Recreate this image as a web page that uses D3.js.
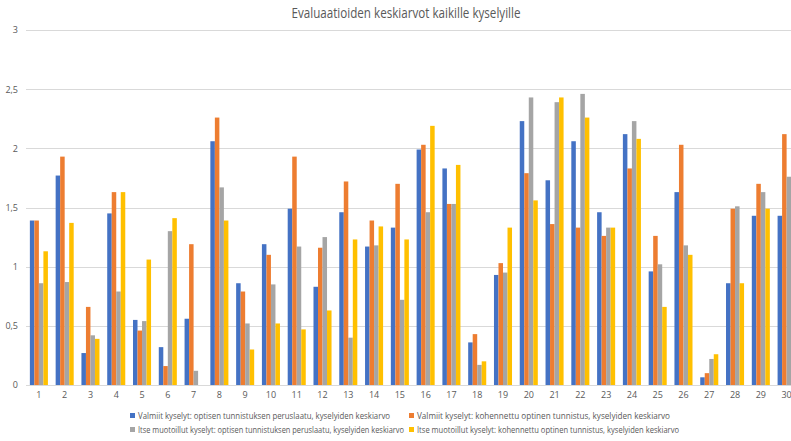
<!DOCTYPE html>
<html>
<head>
<meta charset="utf-8">
<script src="https://cdn.jsdelivr.net/npm/d3@7"></script>
<style>
  html, body { margin: 0; padding: 0; background: #fff; }
  svg { display: block; }
  text { font-family: "Open Sans", "Liberation Sans", sans-serif; fill: #595959; }
</style>
</head>
<body>
<svg id="chart" width="791" height="441"></svg>
<script>
// Questionnaire numbers 1–30
const categories = d3.range(1, 31).map(String);

const seriesNames = [
  "Valmiit kyselyt: optisen tunnistuksen peruslaatu, kyselyiden keskiarvo",
  "Valmiit kyselyt: kohennettu optinen tunnistus, kyselyiden keskiarvo",
  "Itse muotoillut kyselyt: optisen tunnistuksen peruslaatu, kyselyiden keskiarvo",
  "Itse muotoillut kyselyt: kohennettu optinen tunnistus, kyselyiden keskiarvo"
];

const valmiitPeruslaatu = [1.39, 1.77, 0.27, 1.45, 0.55, 0.32, 0.56, 2.06, 0.86, 1.19,
                           1.49, 0.83, 1.46, 1.17, 1.33, 1.99, 1.83, 0.36, 0.93, 2.23,
                           1.73, 2.06, 1.46, 2.12, 0.96, 1.63, 0.065, 0.86, 1.43, 1.43];
const valmiitKohennettu = [1.39, 1.93, 0.66, 1.63, 0.46, 0.16, 1.19, 2.26, 0.79, 1.10,
                           1.93, 1.16, 1.72, 1.39, 1.70, 2.03, 1.53, 0.43, 1.03, 1.79,
                           1.36, 1.33, 1.26, 1.83, 1.26, 2.03, 0.10, 1.49, 1.70, 2.12];
const itsePeruslaatu    = [0.86, 0.87, 0.42, 0.79, 0.54, 1.30, 0.12, 1.67, 0.52, 0.85,
                           1.17, 1.25, 0.40, 1.18, 0.72, 1.46, 1.53, 0.17, 0.95, 2.43,
                           2.39, 2.46, 1.33, 2.23, 1.02, 1.18, 0.22, 1.51, 1.63, 1.76];
const itseKohennettu    = [1.13, 1.37, 0.39, 1.63, 1.06, 1.41, 0.00, 1.39, 0.30, 0.52,
                           0.47, 0.63, 1.23, 1.34, 1.23, 2.19, 1.86, 0.20, 1.33, 1.56,
                           2.43, 2.26, 1.33, 2.08, 0.66, 1.10, 0.26, 0.86, 1.49, 1.49];

const yTicks = [0, 0.5, 1, 1.5, 2, 2.5, 3];
const colors = ["#4472C4", "#ED7D31", "#A5A5A5", "#FFC000"];

const seriesValues = [valmiitPeruslaatu, valmiitKohennettu, itsePeruslaatu, itseKohennettu];

const svg = d3.select("#chart");

// plot area runs past the right edge of the page
const plot = { left: 26, right: 799.5, top: 30, bottom: 385 };

const x = d3.scaleBand().domain(categories).range([plot.left, plot.right])
  .paddingInner(0.3).paddingOuter(0.15);
const x1 = d3.scaleBand().domain(d3.range(4)).range([0, x.bandwidth()]);
const y = d3.scaleLinear().domain([0, 3]).range([plot.bottom, plot.top]);

// title (narrow face imitated by compressing the glyphs)
svg.append("text")
  .attr("x", 406).attr("y", 18)
  .attr("text-anchor", "middle")
  .attr("textLength", 229)
  .attr("lengthAdjust", "spacingAndGlyphs")
  .style("font-family", "'Open Sans', sans-serif")
  .style("font-size", "14.5px")
  .style("fill", "#595959")
  .text("Evaluaatioiden keskiarvot kaikille kyselyille");

// horizontal grid
svg.append("g")
  .selectAll("line")
  .data(yTicks.filter(d => d > 0))
  .join("line")
  .attr("x1", plot.left).attr("x2", 791)
  .attr("y1", d => Math.round(y(d)) + 0.5).attr("y2", d => Math.round(y(d)) + 0.5)
  .attr("stroke", "#d9d9d9").attr("stroke-width", 1);

// y axis labels
const yAxis = d3.axisLeft(y).tickValues(yTicks).tickSize(0).tickPadding(8)
  .tickFormat(d => String(d).replace(".", ","));
const gy = svg.append("g").attr("transform", `translate(${plot.left},0)`).call(yAxis);
gy.select(".domain").remove();
gy.selectAll("text").style("font-size", "9px").style("fill", "#595959")
  .style("font-family", "'Open Sans', sans-serif");

// bars
const groups = svg.append("g")
  .selectAll("g")
  .data(categories)
  .join("g")
  .attr("transform", d => `translate(${x(d)},0)`);

groups.selectAll("rect")
  .data((c, i) => seriesValues.map((vals, s) => ({ s, v: vals[i] })))
  .join("rect")
  .attr("x", d => x1(d.s))
  .attr("width", x1.bandwidth())
  .attr("y", d => y(d.v))
  .attr("height", d => y(0) - y(d.v))
  .attr("fill", d => colors[d.s]);

// x axis
const xAxis = d3.axisBottom(x).tickSize(0).tickPadding(7);
const gx = svg.append("g").attr("transform", `translate(0,${plot.bottom})`).call(xAxis);
gx.select(".domain").attr("stroke", "#d9d9d9").attr("d", `M${plot.left},0.5H791`);
gx.selectAll("text").style("font-size", "9px").style("fill", "#595959")
  .style("font-family", "'Open Sans', sans-serif");

// legend (two rows, two columns)
const legendPos = [
  { x: 130, y: 416, w: 252 }, { x: 409, y: 416, w: 253 },
  { x: 130, y: 430, w: 266 }, { x: 409, y: 430, w: 262 }
];
const legend = svg.append("g")
  .selectAll("g")
  .data(seriesNames)
  .join("g")
  .attr("transform", (d, i) => `translate(${legendPos[i].x},${legendPos[i].y})`);
legend.append("rect")
  .attr("x", 0).attr("y", -3).attr("width", 5).attr("height", 5)
  .attr("fill", (d, i) => colors[i]);
legend.append("text")
  .attr("x", 8).attr("y", 3)
  .attr("textLength", (d, i) => legendPos[i].w)
  .attr("lengthAdjust", "spacingAndGlyphs")
  .style("font-size", "8.6px")
  .style("fill", "#595959")
  .text(d => d);
</script>
</body>
</html>
